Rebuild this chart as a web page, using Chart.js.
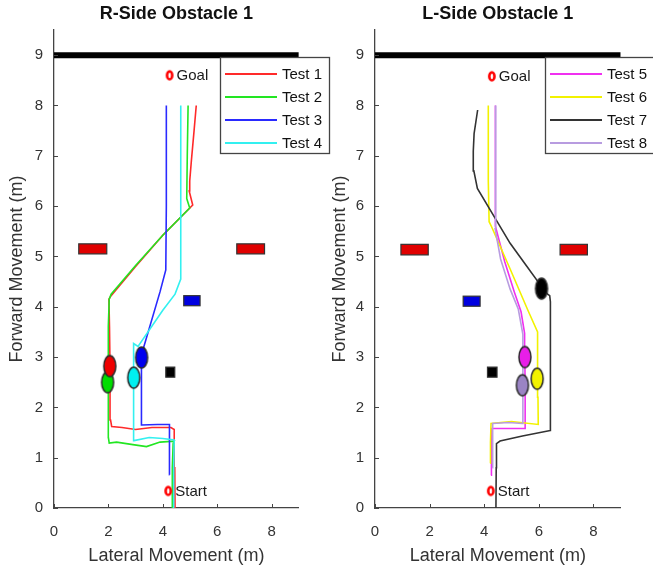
<!DOCTYPE html>
<html>
<head>
<meta charset="utf-8">
<script src="https://cdn.jsdelivr.net/npm/chart.js@4.4.0/dist/chart.umd.min.js"></script>
<style>
html,body{margin:0;padding:0;background:#fff;width:653px;height:573px;overflow:hidden}
#wrap{position:relative;width:653px;height:573px;background:#fff}
.box{position:absolute;top:0;height:573px}
</style>
</head>
<body>
<div id="wrap">
  <div class="box" style="left:0;width:335px"><canvas id="cLeft" width="335" height="573"></canvas></div>
  <div class="box" style="left:321px;width:332px"><canvas id="cRight" width="332" height="573"></canvas></div>
</div>
<script>
// ---------------- DATA ----------------
const xTicks = [0, 2, 4, 6, 8];
const yTicks = [0, 1, 2, 3, 4, 5, 6, 7, 8, 9];
const xRange = [0, 9];
const yRange = [0, 9.5];
const wallX = [0, 9];
const wallY = [9, 9];
const xAxisTitle = 'Lateral Movement (m)';
const yAxisTitle = 'Forward Movement (m)';
const pointTexts = ['Goal', 'Start'];

// R-Side chart
const rTitle = 'R-Side Obstacle 1';
const rLabels = ['Test 1', 'Test 2', 'Test 3', 'Test 4'];
const t1X = [4.45, 4.44, 4.42, 4.3, 3.6, 3.0, 2.5, 2.12, 2.08, 2.06, 2.04, 2.02, 2.1, 3.0, 4.0, 5.1, 4.97, 4.99, 5.05, 5.15, 5.23];
const t1Y = [0, 0.8, 1.56, 1.6, 1.6, 1.56, 1.6, 1.62, 1.75, 2.8, 3.6, 4.15, 4.22, 4.8, 5.42, 6.02, 6.3, 6.5, 6.9, 7.5, 8.0];
const t2X = [4.34, 4.35, 4.38, 4.42, 3.9, 3.4, 2.9, 2.3, 2.03, 2.0, 2.0, 1.99, 2.0, 2.03, 2.1, 3.0, 4.0, 4.99, 4.88, 4.9, 4.93];
const t2Y = [0, 0.8, 1.28, 1.33, 1.31, 1.22, 1.26, 1.31, 1.29, 1.4, 1.5, 2.5, 3.6, 4.15, 4.25, 4.82, 5.42, 5.96, 6.15, 7.0, 8.0];
const t3X = [4.25, 4.25, 4.24, 3.8, 3.22, 3.21, 3.22, 3.3, 3.9, 4.11, 4.13, 4.13];
const t3Y = [0.66, 1.2, 1.66, 1.66, 1.65, 2.5, 3.0, 3.2, 4.3, 4.73, 6.0, 8.0];
const t4X = [4.38, 4.4, 4.42, 4.0, 3.5, 2.94, 2.93, 2.93, 2.92, 3.09, 4.0, 4.45, 4.66, 4.66];
const t4Y = [0, 0.8, 1.35, 1.38, 1.4, 1.34, 2.0, 2.6, 3.27, 3.21, 3.93, 4.25, 4.55, 8.0];
const rMarkX = [2.05, 1.97, 3.22, 2.93];
const rMarkY = [2.82, 2.5, 2.99, 2.59];
const rRefX = [4.25, 4.2];   // Goal, Start
const rRefY = [8.6, 0.34];
const rObstX0 = [0.91, 6.72, 4.77, 4.11];
const rObstX1 = [1.94, 7.74, 5.37, 4.44];
const rObstY0 = [5.05, 5.05, 4.02, 2.6];
const rObstY1 = [5.25, 5.25, 4.22, 2.8];

// L-Side chart
const lTitle = 'L-Side Obstacle 1';
const lLabels = ['Test 5', 'Test 6', 'Test 7', 'Test 8'];
const t5X = [4.25, 4.26, 4.27, 4.8, 5.5, 5.5, 5.49, 5.48, 5.35, 5.1, 4.75, 4.41, 4.41];
const t5Y = [0.65, 1.2, 1.58, 1.58, 1.58, 2.2, 3.0, 3.47, 3.9, 4.3, 4.9, 5.6, 8.0];
const t6X = [4.22, 4.23, 4.25, 5.0, 5.98, 5.97, 5.95, 5.96, 5.6, 4.95, 4.27, 4.18, 4.15, 4.15];
const t6Y = [0.89, 1.3, 1.68, 1.72, 1.66, 2.2, 2.6, 3.5, 3.93, 4.75, 5.59, 5.69, 6.5, 8.0];
const t7X = [4.43, 4.44, 4.45, 4.58, 5.4, 6.42, 6.42, 6.43, 6.4, 6.2, 6.1, 5.5, 4.95, 4.3, 3.75, 3.62, 3.6, 3.63, 3.76];
const t7Y = [0, 0.8, 1.28, 1.33, 1.43, 1.54, 2.5, 4.1, 4.22, 4.3, 4.4, 4.85, 5.26, 5.85, 6.35, 6.7, 7.09, 7.44, 7.91];
const t8X = [4.3, 4.3, 4.32, 4.9, 5.4, 5.41, 5.42, 5.42, 5.25, 4.95, 4.6, 4.4, 4.42, 4.42];
const t8Y = [0.8, 1.3, 1.68, 1.7, 1.68, 2.4, 3.0, 3.45, 3.95, 4.35, 4.95, 5.55, 6.5, 8.0];
const lMarkX = [5.49, 5.94, 6.1, 5.4];
const lMarkY = [3.0, 2.57, 4.36, 2.44];
const lRefX = [4.28, 4.24];
const lRefY = [8.58, 0.34];
const lObstX0 = [0.95, 6.78, 3.23, 4.12];
const lObstX1 = [1.95, 7.78, 3.85, 4.47];
const lObstY0 = [5.03, 5.03, 4.01, 2.6];
const lObstY1 = [5.24, 5.24, 4.21, 2.8];

// ---------------- STYLE ----------------
const FONT = '"Liberation Sans", Arial, Helvetica, sans-serif';
const obstColors = ['#e00000', '#e00000', '#0000e0', '#000000'];
const rLine = ['#ff2a2a', '#22e622', '#2a2aff', '#33f0f0'];
const rFill = ['#ee0000', '#00dd00', '#0000ee', '#00f0f0'];
const lLine = ['#f030f0', '#f2f200', '#333333', '#b89ce0'];
const lFill = ['#e81ee8', '#f2f200', '#000000', '#9a84c4'];

function pts(xs, ys) { return xs.map((x, i) => ({ x: x, y: ys[i] })); }

function ellipseImg(fill) {
  const w = 12, h = 21, lw = 1.5;
  const c = document.createElement('canvas');
  c.width = w + 4; c.height = h + 4;
  const g = c.getContext('2d');
  g.beginPath();
  g.ellipse(c.width / 2, c.height / 2, w / 2, h / 2, 0, 0, Math.PI * 2);
  g.fillStyle = fill; g.fill();
  g.lineWidth = lw; g.strokeStyle = '#2a2a2a'; g.stroke();
  return c;
}
function ringImg() {
  const c = document.createElement('canvas');
  c.width = 10; c.height = 13;
  const g = c.getContext('2d');
  g.beginPath();
  g.ellipse(5, 6.5, 2.6, 4, 0, 0, Math.PI * 2);
  g.lineWidth = 2.6; g.strokeStyle = '#ff0000'; g.stroke();
  return c;
}

const insideTicks = {
  id: 'insideTicks',
  afterDatasetsDraw(chart) {
    const ctx = chart.ctx, xs = chart.scales.x, ys = chart.scales.y;
    const a = chart.chartArea;
    ctx.save();
    ctx.strokeStyle = '#444'; ctx.lineWidth = 1;
    ctx.beginPath();
    xTicks.forEach(v => { const p = Math.round(xs.getPixelForValue(v)) + 0.5; ctx.moveTo(p, a.bottom); ctx.lineTo(p, a.bottom - 4); });
    yTicks.forEach(v => { const p = Math.round(ys.getPixelForValue(v)) + 0.5; ctx.moveTo(a.left, p); ctx.lineTo(a.left + 4, p); });
    ctx.stroke();
    ctx.restore();
  }
};

const obstaclePlugin = {
  id: 'obstacles',
  beforeDatasetsDraw(chart, args, opts) {
    const ctx = chart.ctx, xs = chart.scales.x, ys = chart.scales.y;
    ctx.save();
    opts.x0.forEach((v, i) => {
      const l = xs.getPixelForValue(v), r = xs.getPixelForValue(opts.x1[i]);
      const t = ys.getPixelForValue(opts.y1[i]), b = ys.getPixelForValue(opts.y0[i]);
      ctx.fillStyle = opts.colors[i];
      ctx.fillRect(l, t, r - l, b - t);
      ctx.lineWidth = 1.2; ctx.strokeStyle = '#333';
      ctx.strokeRect(l, t, r - l, b - t);
    });
    ctx.restore();
  }
};

const textPlugin = {
  id: 'pointText',
  afterDatasetsDraw(chart) {
    const ctx = chart.ctx;
    chart.data.datasets.forEach((ds, i) => {
      if (!ds.pointTexts) return;
      const meta = chart.getDatasetMeta(i);
      ctx.save();
      ctx.font = '15px ' + FONT;
      ctx.fillStyle = '#1a1a1a';
      ctx.textBaseline = 'middle';
      meta.data.forEach((el, j) => { ctx.fillText(ds.pointTexts[j], el.x + 7, el.y + 1); });
      ctx.restore();
    });
  }
};

const boxLegend = {
  id: 'boxLegend',
  afterDraw(chart, args, opts) {
    const ctx = chart.ctx;
    const items = chart.data.datasets.filter(d => d.legendEntry);
    ctx.save();
    ctx.fillStyle = '#fff';
    ctx.fillRect(opts.left, opts.top, opts.width, opts.height);
    ctx.strokeStyle = '#444'; ctx.lineWidth = 1.3;
    ctx.strokeRect(opts.left + 0.5, opts.top + 0.5, opts.width, opts.height);
    ctx.font = '15px ' + FONT;
    ctx.textBaseline = 'middle';
    items.forEach((d, i) => {
      const y = opts.top + 17 + i * 23;
      ctx.strokeStyle = d.borderColor; ctx.lineWidth = 2;
      ctx.beginPath(); ctx.moveTo(opts.left + 5, y); ctx.lineTo(opts.left + 57, y); ctx.stroke();
      ctx.fillStyle = '#111';
      ctx.fillText(d.label, opts.left + 62, y + 1);
    });
    ctx.restore();
  }
};

function buildChart(id, cfg) {
  const datasets = [];
  datasets.push({ data: pts(wallX, wallY), showLine: true, borderColor: '#000', borderWidth: 6, pointRadius: 0, order: 4 });
  cfg.tests.forEach((t, i) => {
    datasets.push({ label: cfg.labels[i], data: pts(t[0], t[1]), showLine: true, borderColor: cfg.lineColors[i], borderWidth: 1.6, pointRadius: 0, order: 3 - i * 0.1, legendEntry: true });
  });
  cfg.markX.forEach((x, i) => {
    datasets.push({ data: [{ x: x, y: cfg.markY[i] }], pointStyle: ellipseImg(cfg.fillColors[i]), pointRadius: 6, order: 1 });
  });
  datasets.push({ data: pts(cfg.refX, cfg.refY), pointStyle: ringImg(), pointRadius: 4, order: 0, pointTexts: pointTexts });

  return new Chart(document.getElementById(id), {
    type: 'scatter',
    data: { datasets: datasets },
    plugins: [obstaclePlugin, insideTicks, textPlugin, boxLegend],
    options: {
      responsive: false, animation: false, devicePixelRatio: 1, events: [],
      layout: { padding: { left: 0, right: cfg.padRight, top: 0, bottom: 0 } },
      plugins: {
        legend: { display: false },
        tooltip: { enabled: false },
        title: { display: true, text: cfg.title, fullSize: false, color: '#111', font: { family: FONT, size: 18, weight: 'bold' }, padding: { top: 3, bottom: 5.4 } },
        obstacles: { x0: cfg.ox0, x1: cfg.ox1, y0: cfg.oy0, y1: cfg.oy1, colors: obstColors },
        boxLegend: cfg.legend
      },
      scales: {
        x: {
          type: 'linear', min: xRange[0], max: xRange[1],
          afterBuildTicks: s => { s.ticks = xTicks.map(v => ({ value: v })); },
          afterFit: s => { s.height = 65; },
          grid: { display: false, drawTicks: false },
          border: { display: true, color: '#444', width: 1.3 },
          ticks: { padding: 15, color: '#333', maxRotation: 0, font: { family: FONT, size: 15 } },
          title: { display: true, text: xAxisTitle, color: '#333', font: { family: FONT, size: 18 }, padding: { top: 0, bottom: 6 } }
        },
        y: {
          type: 'linear', min: yRange[0], max: yRange[1],
          afterBuildTicks: s => { s.ticks = yTicks.map(v => ({ value: v })); },
          afterFit: s => { s.width = 54; },
          grid: { display: false, drawTicks: false },
          border: { display: true, color: '#444', width: 1.3 },
          ticks: { padding: 11, color: '#333', font: { family: FONT, size: 15 } },
          title: { display: true, text: yAxisTitle, color: '#333', font: { family: FONT, size: 18 }, padding: { top: cfg.yTitlePad, bottom: 0 } }
        }
      }
    }
  });
}

buildChart('cLeft', {
  title: rTitle, labels: rLabels,
  tests: [[t1X, t1Y], [t2X, t2Y], [t3X, t3Y], [t4X, t4Y]],
  lineColors: rLine, fillColors: rFill,
  markX: rMarkX, markY: rMarkY, refX: rRefX, refY: rRefY,
  ox0: rObstX0, ox1: rObstX1, oy0: rObstY0, oy1: rObstY1,
  padRight: 36.2, yTitlePad: 6,
  legend: { left: 220, top: 57, width: 109, height: 96 }
});
buildChart('cRight', {
  title: lTitle, labels: lLabels,
  tests: [[t5X, t5Y], [t6X, t6Y], [t7X, t7Y], [t8X, t8Y]],
  lineColors: lLine, fillColors: lFill,
  markX: lMarkX, markY: lMarkY, refX: lRefX, refY: lRefY,
  ox0: lObstX0, ox1: lObstX1, oy0: lObstY0, oy1: lObstY1,
  padRight: 32.3, yTitlePad: 8,
  legend: { left: 224, top: 57, width: 112, height: 96 }
});
</script>
</body>
</html>
